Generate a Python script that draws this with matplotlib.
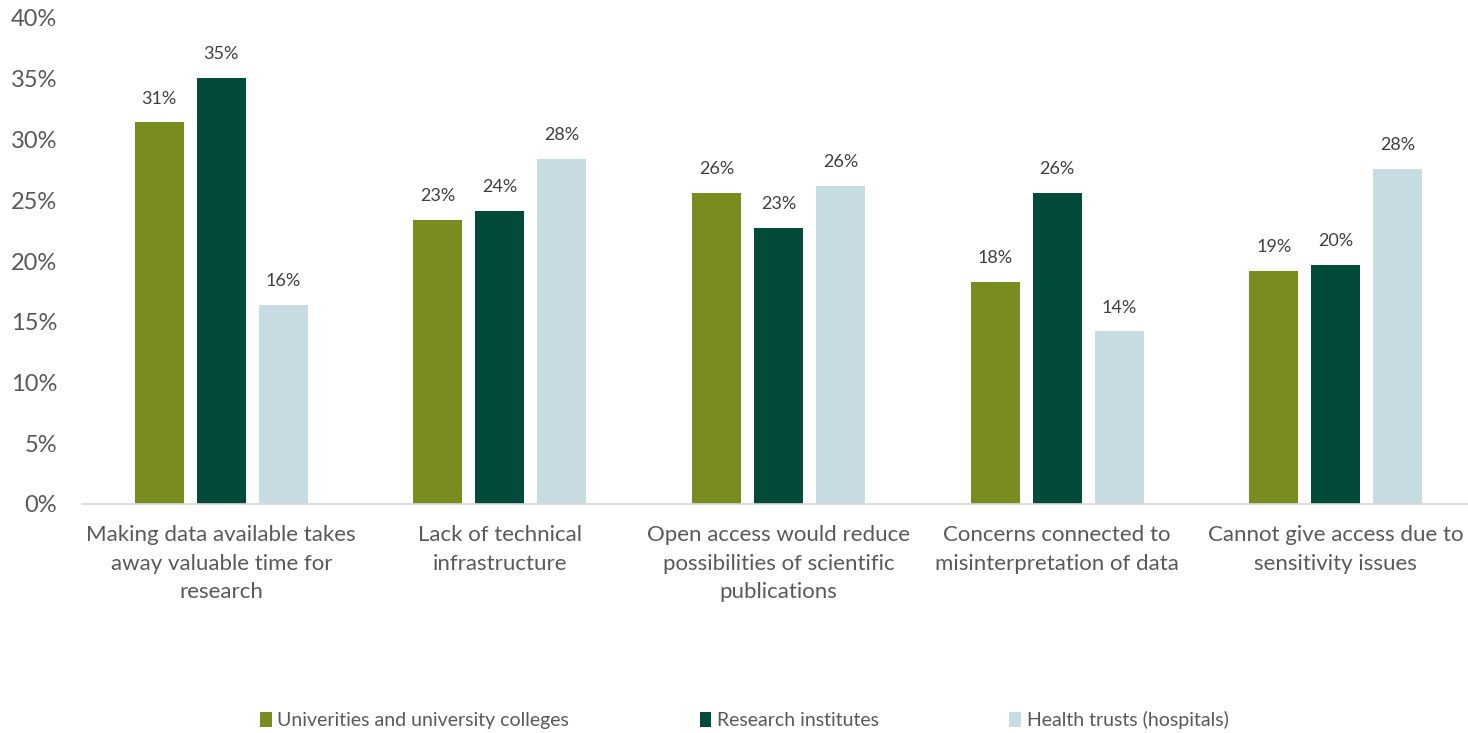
import matplotlib.pyplot as plt
import numpy as np
from matplotlib.patches import Patch

categories = [
    "Making data available takes\naway valuable time for\nresearch",
    "Lack of technical\ninfrastructure",
    "Open access would reduce\npossibilities of scientific\npublications",
    "Concerns connected to\nmisinterpretation of data",
    "Cannot give access due to\nsensitivity issues",
]
series_names = [
    "Univerities and university colleges",
    "Research institutes",
    "Health trusts (hospitals)",
]
universities = [31.4, 23.4, 25.6, 18.3, 19.2]
institutes = [35.1, 24.1, 22.7, 25.6, 19.7]
hospitals = [16.4, 28.4, 26.2, 14.2, 27.6]
colors = ["#788C1F", "#024A3A", "#C7DBE3"]

plt.rcParams["font.family"] = ["Lato", "DejaVu Sans"]

fig = plt.figure(figsize=(14.68, 7.33), dpi=100)
ax = fig.add_axes([82 / 1468, 1 - 504 / 733, 1393 / 1468, 486 / 733])

x = np.arange(len(categories))
width = 0.176
step = 0.2225
for i, (vals, name, col) in enumerate(zip([universities, institutes, hospitals], series_names, colors)):
    pos = x + (i - 1) * step
    ax.bar(pos, vals, width=width, color=col, label=name)
    for px, v in zip(pos, vals):
        ax.text(px, v + 1.3, f"{v:.0f}%", ha="center", va="bottom", fontsize=13, color="#404040")

ax.set_xlim(-0.5, len(categories) - 0.5)
ax.set_ylim(0, 40)
ax.set_yticks(np.arange(0, 41, 5))
ax.set_yticklabels([f"{t}%" for t in range(0, 41, 5)], fontsize=17, color="#595959")
ax.set_xticks(x)
ax.set_xticklabels(categories, fontsize=16, color="#595959", linespacing=1.55)
ax.tick_params(axis="both", length=0)
ax.tick_params(axis="x", pad=15)
ax.tick_params(axis="y", pad=18)
for s in ["top", "right", "left"]:
    ax.spines[s].set_visible(False)
ax.spines["bottom"].set_color("#D9D9D9")
ax.spines["bottom"].set_linewidth(1.2)

handles = [Patch(facecolor=c) for c in colors]
fig.legend(handles, series_names, loc="center", bbox_to_anchor=(0.507, 1 - 720 / 733),
           ncol=3, frameon=False, fontsize=14, handlelength=0.6, handleheight=0.8,
           handletextpad=0.3, columnspacing=6.7, labelcolor="#595959")

fig.savefig("out.png", dpi=100)
